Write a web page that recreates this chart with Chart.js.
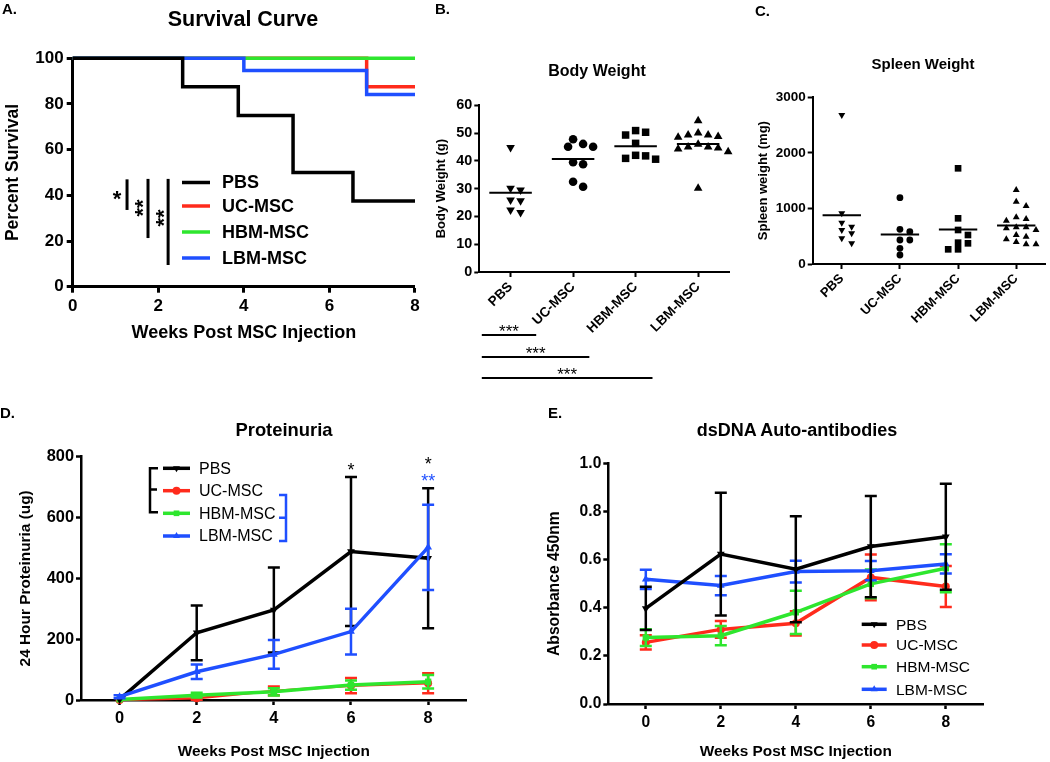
<!DOCTYPE html>
<html>
<head>
<meta charset="utf-8">
<script src="https://cdn.jsdelivr.net/npm/chart.js@4"></script>
<style>
    body { margin: 0; background: #fff; width: 1050px; height: 762px; position: relative; overflow: hidden; font-family: Arial, "Liberation Sans", sans-serif; }
    canvas { position: absolute; left: 0; top: 0; }
    .t { position: absolute; font-weight: bold; white-space: nowrap; line-height: 1; transform: translate(-50%, -50%); color: #000; }
    .p { position: absolute; font-weight: bold; font-size: 15px; line-height: 1; transform: translateY(-50%); color: #000; }
</style>
</head>
<body>
<canvas id="cA" width="1050" height="762"></canvas>
<canvas id="cB" width="1050" height="762"></canvas>
<canvas id="cC" width="1050" height="762"></canvas>
<canvas id="cD" width="1050" height="762"></canvas>
<canvas id="cE" width="1050" height="762"></canvas>

<div class="p" style="left:2px;top:8px">A.</div>
<div class="p" style="left:435px;top:8px">B.</div>
<div class="p" style="left:755px;top:10px">C.</div>
<div class="p" style="left:0px;top:412px">D.</div>
<div class="p" style="left:548px;top:412px">E.</div>
<div class="t" style="left:243px;top:20px;font-size:21.5px">Survival Curve</div>
<div class="t" style="left:597px;top:71px;font-size:16px">Body Weight</div>
<div class="t" style="left:923px;top:63px;font-size:15px">Spleen Weight</div>
<div class="t" style="left:284px;top:430px;font-size:18.4px">Proteinuria</div>
<div class="t" style="left:797px;top:430px;font-size:18px">dsDNA Auto-antibodies</div>

<script>
const FONT = 'Arial, "Liberation Sans", sans-serif';
const W = 1050, H = 762;

const groups = ['PBS', 'UC-MSC', 'HBM-MSC', 'LBM-MSC'];
const groupColors = ['#000000', '#ff2b1c', '#2ee62e', '#1f4fff'];
const markerStyles = ['triangle', 'circle', 'rect', 'triangle'];
const markerRot = [180, 0, 0, 0];

// A. survival (weeks, percent)
const survPBSWeeks = [0, 2.57, 3.87, 5.15, 6.55, 8];
const survPBS = [100, 87.5, 75, 50, 37.5, 37.5];
const survUCWeeks = [0, 6.87, 8];
const survUC = [100, 87.5, 87.5];
const survHBMWeeks = [0, 8];
const survHBM = [100, 100];
const survLBMWeeks = [0, 4.0, 6.87, 8];
const survLBM = [100, 94.7, 84.2, 84.2];

// B. body weight (g)
const bwPBS = [44.8, 29.5, 30.1, 25.6, 25.9, 21.4, 22.3];
const bwUC = [46.1, 47.8, 45.1, 45.1, 39.5, 38.8, 30.7, 32.5];
const bwHBM = [49.3, 50.9, 50.3, 46.3, 41.8, 40.6, 42.0, 40.9];
const bwLBM = [54.4, 49.3, 50.0, 48.5, 49.3, 48.8, 46.0, 44.6, 45.0, 44.3, 43.3, 45.0, 30.1];

// C. spleen weight (mg)
const spPBS = [2682, 912, 672, 612, 744, 552, 372, 462];
const spUC = [1194, 582, 624, 432, 432, 282, 162];
const spHBM = [1722, 822, 612, 522, 372, 384, 264, 264];
const spLBM = [1332, 1122, 1044, 840, 780, 810, 660, 642, 612, 660, 492, 522, 444, 396, 354, 354];

// D. proteinuria (ug), mean and SEM
const weeks = [0, 2, 4, 6, 8];
const protPBS = [2, 221, 296, 488, 466];
const protPBSErr = [0, 90, 140, 245, 230];
const protUC = [0, 6, 30, 47, 55];
const protUCErr = [0, 5, 14, 25, 33];
const protHBM = [2, 16, 27, 49, 60];
const protHBMErr = [0, 8, 12, 15, 22];
const protLBM = [11, 93, 150, 225, 502];
const protLBMErr = [5, 24, 47, 75, 140];

// E. dsDNA absorbance 450nm, mean and SEM
const dnaPBS = [0.397, 0.623, 0.56, 0.654, 0.695];
const dnaPBSErr = [0.09, 0.255, 0.22, 0.21, 0.22];
const dnaUC = [0.256, 0.31, 0.335, 0.526, 0.488];
const dnaUCErr = [0.03, 0.035, 0.05, 0.095, 0.085];
const dnaHBM = [0.276, 0.284, 0.381, 0.499, 0.564];
const dnaHBMErr = [0.035, 0.04, 0.09, 0.06, 0.1];
const dnaLBM = [0.518, 0.492, 0.55, 0.554, 0.582];
const dnaLBMErr = [0.04, 0.04, 0.045, 0.04, 0.04];

// --- helpers ---
function baseOptions(box, scales) {
    const lh = box.yts * 1.2;
    const scaleLeft = box.ytx - lh / 2;
    return {
        responsive: false,
        animation: false,
        events: [],
        layout: { padding: { left: scaleLeft, top: box.top, right: W - box.right, bottom: H - box.bottom - box.xH } },
        plugins: { legend: { display: false }, tooltip: { enabled: false } },
        scales: scales(box.left - scaleLeft, box.xH)
    };
}

function axis(o) {
    const a = {
        type: 'linear', position: o.pos, min: o.min, max: o.max,
        afterFit: s => { if (o.pos === 'bottom') s.height = o.fit; else s.width = o.fit; },
        border: { display: true, color: '#000', width: o.bw },
        grid: { display: true, drawOnChartArea: false, drawTicks: true, tickLength: o.tl, tickWidth: o.bw, tickColor: '#000' },
        ticks: { color: '#000', padding: o.pad, autoSkip: false, maxRotation: o.rot || 0, minRotation: o.rot || 0,
                 font: { family: FONT, size: o.fs, weight: 'bold' } },
        title: o.title ? { display: true, text: o.title, color: '#000', padding: 0, font: { family: FONT, size: o.ts, weight: 'bold' } } : { display: false }
    };
    if (o.step) a.ticks.stepSize = o.step;
    if (o.tickVals) a.afterBuildTicks = s => { s.ticks = o.tickVals.map(v => ({ value: v })); };
    if (o.fmt) a.ticks.callback = o.fmt;
    return a;
}

function drawMarker(ctx, style, rot, x, y, r) {
    ctx.beginPath();
    if (style === 'circle') {
        ctx.arc(x, y, r, 0, Math.PI * 2);
    } else if (style === 'rect') {
        const s = r * Math.SQRT1_2;
        ctx.rect(x - s, y - s, 2 * s, 2 * s);
    } else {
        let a = rot * Math.PI / 180;
        for (let k = 0; k < 3; k++) {
            const px = x + Math.sin(a) * r, py = y - Math.cos(a) * r;
            if (k === 0) ctx.moveTo(px, py); else ctx.lineTo(px, py);
            a += Math.PI * 2 / 3;
        }
        ctx.closePath();
    }
    ctx.fill();
}

function starText(ctx, text, cx, cy, size, weight, color, rotate) {
    ctx.save();
    ctx.fillStyle = color;
    ctx.font = `${weight} ${size}px ${FONT}`;
    ctx.textAlign = 'center';
    ctx.textBaseline = 'alphabetic';
    ctx.translate(cx, cy);
    if (rotate) ctx.rotate(-Math.PI / 2);
    ctx.fillText(text, 0, size * 0.575);
    ctx.restore();
}

// column scatter spread (GraphPad-like)
function swarm(vals, xTol, yTol) {
    const order = vals.map((v, k) => k).sort((a, b) => vals[b] - vals[a]);
    const placed = [];
    const offs = new Array(vals.length).fill(0);
    order.forEach(k => {
        for (let n = 0; n < 60; n++) {
            const off = Math.ceil(n / 2) * (n % 2 ? 1 : -1) * xTol / 2;
            const hit = placed.some(p => Math.hypot((p.x - off) / xTol, (p.y - vals[k]) / yTol) < 1);
            if (!hit) { offs[k] = off; placed.push({ x: off, y: vals[k] }); break; }
        }
    });
    return offs;
}

function swarmSet(i, vals, xTol, yTol, r) {
    const offs = swarm(vals, xTol, yTol);
    return {
        data: vals.map((v, k) => ({ x: i + offs[k], y: v })),
        values: vals,
        pointStyle: markerStyles[i], pointRotation: markerRot[i], pointRadius: r,
        backgroundColor: '#000', borderColor: '#000', borderWidth: 0, clip: false
    };
}

function meanLines(hw) {
    return {
        id: 'meanLines',
        afterDatasetsDraw(chart) {
            const { ctx, scales: { x, y } } = chart;
            ctx.save();
            ctx.strokeStyle = '#000';
            ctx.lineWidth = 2;
            chart.data.datasets.forEach((ds, i) => {
                const m = ds.values.reduce((a, b) => a + b, 0) / ds.values.length;
                const py = y.getPixelForValue(m);
                ctx.beginPath();
                ctx.moveTo(x.getPixelForValue(i - hw), py);
                ctx.lineTo(x.getPixelForValue(i + hw), py);
                ctx.stroke();
            });
            ctx.restore();
        }
    };
}

const errorBars = {
    id: 'errorBars',
    beforeDatasetDraw(chart, args) {
        const ds = chart.data.datasets[args.index];
        if (!ds.errors) return;
        const ctx = chart.ctx, y = chart.scales.y;
        ctx.save();
        ctx.strokeStyle = ds.borderColor;
        ctx.lineWidth = 2.5;
        args.meta.data.forEach((pt, k) => {
            const e = ds.errors[k];
            if (!e) return;
            const v = ds.data[k].y;
            const top = y.getPixelForValue(v + e), bot = y.getPixelForValue(v - e);
            ctx.beginPath();
            ctx.moveTo(pt.x, top); ctx.lineTo(pt.x, bot);
            ctx.moveTo(pt.x - 6, top); ctx.lineTo(pt.x + 6, top);
            ctx.moveTo(pt.x - 6, bot); ctx.lineTo(pt.x + 6, bot);
            ctx.stroke();
        });
        ctx.restore();
    }
};

function trendSet(i, vals, errs, r, lw) {
    return {
        data: weeks.map((w, k) => ({ x: w, y: vals[k] })),
        errors: errs,
        borderColor: groupColors[i], backgroundColor: groupColors[i],
        borderWidth: lw, tension: 0, clip: false,
        pointStyle: markerStyles[i], pointRotation: markerRot[i], pointRadius: r, pointBorderWidth: 0
    };
}

function trendLegend(ctx, x0, x1, tx, rows, size, r) {
    ctx.save();
    ctx.font = `${size}px ${FONT}`;
    ctx.textBaseline = 'middle';
    groups.forEach((g, i) => {
        ctx.strokeStyle = groupColors[i];
        ctx.fillStyle = groupColors[i];
        ctx.lineWidth = 3.5;
        ctx.beginPath(); ctx.moveTo(x0, rows[i]); ctx.lineTo(x1, rows[i]); ctx.stroke();
        drawMarker(ctx, markerStyles[i], markerRot[i], (x0 + x1) / 2, rows[i], r);
        ctx.fillStyle = '#000';
        ctx.fillText(g, tx, rows[i] + 1);
    });
    ctx.restore();
}

// --- A. Survival curve ---
const boxA = { left: 72.7, top: 58.3, right: 415, bottom: 286.7, ytx: 13.3, yts: 17.5, xH: 57.1 };

function survSet(i, wk, vals) {
    return {
        data: wk.map((w, k) => ({ x: w, y: vals[k] })),
        stepped: 'before', borderColor: groupColors[i], borderWidth: 3.5,
        pointRadius: 0, fill: false, clip: false
    };
}

const decorA = {
    id: 'decorA',
    afterDraw(chart) {
        const { ctx, scales: { x, y } } = chart;
        ctx.save();
        const rows = [182.5, 206, 232, 258];
        ctx.font = `bold 18px ${FONT}`;
        ctx.textBaseline = 'middle';
        groups.forEach((g, i) => {
            ctx.strokeStyle = groupColors[i];
            ctx.lineWidth = 3.5;
            ctx.beginPath(); ctx.moveTo(182, rows[i]); ctx.lineTo(210, rows[i]); ctx.stroke();
            ctx.fillStyle = '#000';
            ctx.fillText(g, 222, rows[i] + 1);
        });
        // significance bars
        ctx.strokeStyle = '#000';
        ctx.lineWidth = 3;
        [[1.27, 47, 33.6], [1.76, 47.2, 21.3], [2.23, 47.2, 9.5]].forEach(([wx, y0, y1]) => {
            ctx.beginPath();
            ctx.moveTo(x.getPixelForValue(wx), y.getPixelForValue(y0));
            ctx.lineTo(x.getPixelForValue(wx), y.getPixelForValue(y1));
            ctx.stroke();
        });
        ctx.restore();
        starText(ctx, '*', 117, 193, 22, 'bold', '#000', false);
        starText(ctx, '**', 137, 208, 22, 'bold', '#000', true);
        starText(ctx, '**', 158, 218, 22, 'bold', '#000', true);
    }
};

new Chart(document.getElementById('cA'), {
    type: 'line',
    data: { datasets: [
        survSet(0, survPBSWeeks, survPBS),
        survSet(3, survLBMWeeks, survLBM),
        survSet(2, survHBMWeeks, survHBM),
        survSet(1, survUCWeeks, survUC)
    ] },
    options: baseOptions(boxA, (yW, xH) => ({
        x: axis({ pos: 'bottom', min: 0, max: 8, step: 2, fit: xH, bw: 3, tl: 6, pad: 3, fs: 17, title: 'Weeks Post MSC Injection', ts: 18 }),
        y: axis({ pos: 'left', min: 0, max: 100, step: 20, fit: yW, bw: 3, tl: 6, pad: 3, fs: 17, title: 'Percent Survival', ts: 17.5 })
    })),
    plugins: [decorA]
});

// --- B. Body weight ---
const boxB = { left: 479.3, top: 105.3, right: 729.4, bottom: 272, ytx: 441.7, yts: 13, xH: 70 };

const decorB = {
    id: 'decorB',
    afterDraw(chart) {
        const { ctx, scales: { x }, chartArea } = chart;
        ctx.save();
        ctx.strokeStyle = '#000';
        ctx.lineWidth = 2;
        [[0.41, 63], [1.26, 85], [2.27, 106]].forEach(([end, dy]) => {
            const x0 = x.getPixelForValue(-0.46), x1 = x.getPixelForValue(end);
            const py = chartArea.bottom + dy;
            ctx.beginPath(); ctx.moveTo(x0, py); ctx.lineTo(x1, py); ctx.stroke();
            starText(ctx, '***', (x0 + x1) / 2, py - 8, 17, 'normal', '#000', false);
        });
        ctx.restore();
    }
};

new Chart(document.getElementById('cB'), {
    type: 'scatter',
    data: { datasets: [
        swarmSet(0, bwPBS, 0.16, 2.8, 5),
        swarmSet(1, bwUC, 0.16, 2.8, 4.3),
        swarmSet(2, bwHBM, 0.16, 2.8, 5.3),
        swarmSet(3, bwLBM, 0.16, 2.8, 5)
    ] },
    options: baseOptions(boxB, (yW, xH) => ({
        x: axis({ pos: 'bottom', min: -0.5, max: 3.5, tickVals: [0, 1, 2, 3], fmt: v => groups[v], rot: 45, fit: xH, bw: 2, tl: 5, pad: 2, fs: 13.5 }),
        y: axis({ pos: 'left', min: 0, max: 60, step: 10, fit: yW, bw: 2, tl: 5, pad: 2, fs: 14.4, title: 'Body Weight (g)', ts: 13 })
    })),
    plugins: [meanLines(0.34), decorB]
});

// --- C. Spleen weight ---
const boxC = { left: 812.7, top: 97.3, right: 1049.5, bottom: 264, ytx: 763, yts: 13, xH: 70 };

new Chart(document.getElementById('cC'), {
    type: 'scatter',
    data: { datasets: [
        swarmSet(0, spPBS, 0.17, 120, 4),
        swarmSet(1, spUC, 0.17, 120, 3.4),
        swarmSet(2, spHBM, 0.17, 120, 4.7),
        swarmSet(3, spLBM, 0.17, 120, 4)
    ] },
    options: baseOptions(boxC, (yW, xH) => ({
        x: axis({ pos: 'bottom', min: -0.5, max: 3.5, tickVals: [0, 1, 2, 3], fmt: v => groups[v], rot: 45, fit: xH, bw: 2, tl: 5, pad: 2, fs: 13 }),
        y: axis({ pos: 'left', min: 0, max: 3000, step: 1000, fmt: v => String(v), fit: yW, bw: 2, tl: 5, pad: 2, fs: 13.5, title: 'Spleen weight (mg)', ts: 13 })
    })),
    plugins: [meanLines(0.33)]
});

// --- D. Proteinuria ---
const boxD = { left: 81, top: 456.7, right: 466.7, bottom: 700, ytx: 25.8, yts: 15.4, xH: 61 };

const decorD = {
    id: 'decorD',
    afterDraw(chart) {
        const ctx = chart.ctx;
        trendLegend(ctx, 163, 190, 199, [468.3, 490.7, 513.3, 536], 16, 4);
        ctx.save();
        ctx.lineWidth = 2.5;
        ctx.strokeStyle = '#000';
        ctx.beginPath();
        ctx.moveTo(158, 468.3); ctx.lineTo(150, 468.3); ctx.lineTo(150, 512.3); ctx.lineTo(158, 512.3);
        ctx.moveTo(150, 489.5); ctx.lineTo(157, 489.5);
        ctx.stroke();
        ctx.strokeStyle = groupColors[3];
        ctx.beginPath();
        ctx.moveTo(279, 495); ctx.lineTo(286, 495); ctx.lineTo(286, 541); ctx.lineTo(279, 541);
        ctx.moveTo(286, 517.7); ctx.lineTo(279, 517.7);
        ctx.stroke();
        ctx.restore();
        const x = chart.scales.x;
        starText(ctx, '*', x.getPixelForValue(6), 466, 18, 'normal', '#000', false);
        starText(ctx, '*', x.getPixelForValue(8), 460, 18, 'normal', '#000', false);
        starText(ctx, '**', x.getPixelForValue(8), 477, 18, 'normal', groupColors[3], false);
    }
};

new Chart(document.getElementById('cD'), {
    type: 'line',
    data: { datasets: [
        trendSet(3, protLBM, protLBMErr, 4.5, 3.5),
        trendSet(0, protPBS, protPBSErr, 4.5, 3.5),
        trendSet(2, protHBM, protHBMErr, 4.5, 3.5),
        trendSet(1, protUC, protUCErr, 4, 2.5)
    ] },
    options: baseOptions(boxD, (yW, xH) => ({
        x: axis({ pos: 'bottom', min: -1, max: 9, tickVals: weeks, fit: xH, bw: 2.5, tl: 5, pad: 4, fs: 16.4, title: 'Weeks Post MSC Injection', ts: 15.4 }),
        y: axis({ pos: 'left', min: 0, max: 800, step: 200, fit: yW, bw: 2.5, tl: 5, pad: 2, fs: 16.4, title: '24 Hour Proteinuria (ug)', ts: 15.4 })
    })),
    plugins: [errorBars, decorD]
});

// --- E. dsDNA auto-antibodies ---
const boxE = { left: 608.3, top: 463.3, right: 983.3, bottom: 704, ytx: 555, yts: 15.7, xH: 57.1 };

const decorE = {
    id: 'decorE',
    afterDraw(chart) {
        trendLegend(chart.ctx, 861.7, 886.7, 896, [624.3, 645, 666.7, 689.3], 15.5, 4);
    }
};

new Chart(document.getElementById('cE'), {
    type: 'line',
    data: { datasets: [
        trendSet(0, dnaPBS, dnaPBSErr, 4.5, 3.5),
        trendSet(3, dnaLBM, dnaLBMErr, 4.5, 3.5),
        trendSet(2, dnaHBM, dnaHBMErr, 4.5, 3.5),
        trendSet(1, dnaUC, dnaUCErr, 4, 3.5)
    ] },
    options: baseOptions(boxE, (yW, xH) => ({
        x: axis({ pos: 'bottom', min: -1, max: 9, tickVals: weeks, fit: xH, bw: 2.5, tl: 5, pad: 4, fs: 15.6, title: 'Weeks Post MSC Injection', ts: 15.4 }),
        y: axis({ pos: 'left', min: 0, max: 1, step: 0.2, fmt: v => v.toFixed(1), fit: yW, bw: 2.5, tl: 5, pad: 2, fs: 15.6, title: 'Absorbance 450nm', ts: 15.7 })
    })),
    plugins: [errorBars, decorE]
});
</script>
</body>
</html>
